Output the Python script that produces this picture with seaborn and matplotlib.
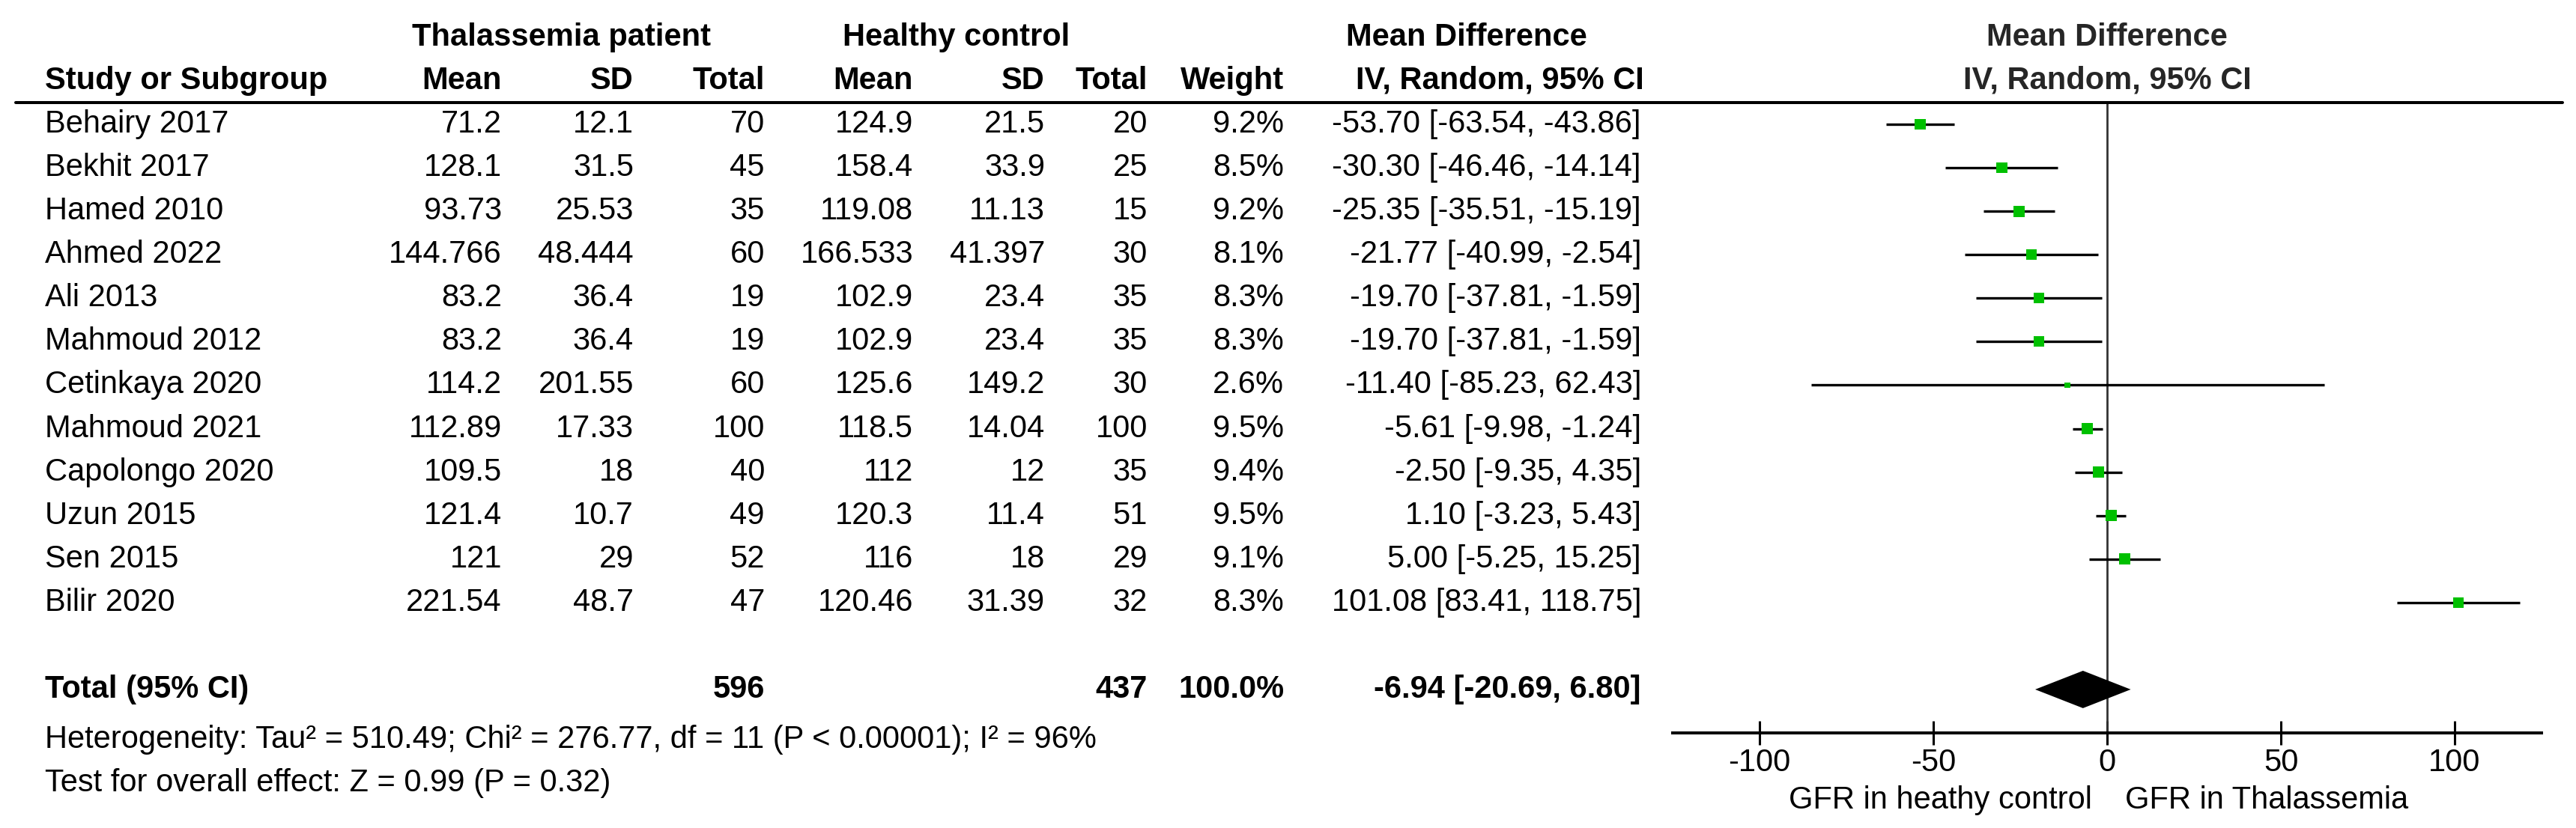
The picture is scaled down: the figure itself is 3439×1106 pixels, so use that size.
import matplotlib
matplotlib.use("Agg")
import matplotlib.pyplot as plt
import matplotlib.transforms as mtransforms
from matplotlib.lines import Line2D
import seaborn as sns

# -----------------------------
# Data
# -----------------------------
studies = ["Behairy 2017", "Bekhit 2017", "Hamed 2010", "Ahmed 2022", "Ali 2013",
           "Mahmoud 2012", "Cetinkaya 2020", "Mahmoud 2021", "Capolongo 2020",
           "Uzun 2015", "Sen 2015", "Bilir 2020"]
thal_mean = [71.2, 128.1, 93.73, 144.766, 83.2, 83.2, 114.2, 112.89, 109.5, 121.4, 121, 221.54]
thal_sd = [12.1, 31.5, 25.53, 48.444, 36.4, 36.4, 201.55, 17.33, 18, 10.7, 29, 48.7]
thal_n = [70, 45, 35, 60, 19, 19, 60, 100, 40, 49, 52, 47]
ctrl_mean = [124.9, 158.4, 119.08, 166.533, 102.9, 102.9, 125.6, 118.5, 112, 120.3, 116, 120.46]
ctrl_sd = [21.5, 33.9, 11.13, 41.397, 23.4, 23.4, 149.2, 14.04, 12, 11.4, 18, 31.39]
ctrl_n = [20, 25, 15, 30, 35, 35, 30, 100, 35, 51, 29, 32]
weight = [9.2, 8.5, 9.2, 8.1, 8.3, 8.3, 2.6, 9.5, 9.4, 9.5, 9.1, 8.3]
md = [-53.70, -30.30, -25.35, -21.77, -19.70, -19.70, -11.40, -5.61, -2.50, 1.10, 5.00, 101.08]
ci_lo = [-63.54, -46.46, -35.51, -40.99, -37.81, -37.81, -85.23, -9.98, -9.35, -3.23, -5.25, 83.41]
ci_hi = [-43.86, -14.14, -15.19, -2.54, -1.59, -1.59, 62.43, -1.24, 4.35, 5.43, 15.25, 118.75]

total_thal = 596
total_ctrl = 437
pooled = [-6.94, -20.69, 6.80]
heterogeneity = "Heterogeneity: Tau\u00b2 = 510.49; Chi\u00b2 = 276.77, df = 11 (P < 0.00001); I\u00b2 = 96%"
overall = "Test for overall effect: Z = 0.99 (P = 0.32)"
xticks = [-100, -50, 0, 50, 100]
left_label = "GFR in heathy control"
right_label = "GFR in Thalassemia"

# -----------------------------
# Style
# -----------------------------
sns.set_theme(style="white")
plt.rcParams["font.family"] = ["Liberation Sans", "DejaVu Sans"]
plt.rcParams["axes.unicode_minus"] = False
FS = 30
W, H = 3439, 1106

fig = plt.figure(figsize=(W / 100, H / 100), dpi=100)
fig.patch.set_facecolor("white")

# forest axes: rows in data units, header line at -0.5, axis at 14
ax_left, ax_right = 2233, 3393
ax_top, ax_bot = 137, 979
ax = fig.add_axes([ax_left / W, 1 - ax_bot / H, (ax_right - ax_left) / W, (ax_bot - ax_top) / H])
ax.set_xlim(-125, 125)
ax.set_ylim(14, -0.5)
ax.set_facecolor("white")

rows = list(range(len(studies)))
total_row = 13

# CI lines
ax.hlines(rows, ci_lo, ci_hi, color="black", lw=2.4, zorder=2)
# weighted squares
sns.scatterplot(x=md, y=rows, size=weight, sizes=(0, 123), size_norm=(0, 10),
                marker="s", color="#00c000", linewidth=0, legend=False, ax=ax, zorder=3)
# pooled diamond
d = 0.43
ax.fill([pooled[1], pooled[0], pooled[2], pooled[0]],
        [total_row, total_row - d, total_row, total_row + d],
        color="black", lw=0, zorder=3)
# line of no effect
ax.axvline(0, color="#333333", lw=2.0, zorder=1)

for s in ["left", "right", "top"]:
    ax.spines[s].set_visible(False)
ax.spines["bottom"].set_linewidth(2.9)
ax.spines["bottom"].set_color("black")
ax.set_yticks([])
ax.set_xticks(xticks)
ax.set_xticklabels([str(t) for t in xticks])
ax.tick_params(axis="x", direction="inout", length=23, width=2.2, labelsize=FS,
               pad=3, color="black", labelcolor="black", bottom=True)
ax.set_xlabel("")
ax.set_ylabel("")

ax.text(-4.3, 15.55, left_label, ha="right", va="center", fontsize=FS, color="black")
ax.text(5.2, 15.55, right_label, ha="left", va="center", fontsize=FS, color="black")

# header line across the figure
fig.add_artist(Line2D([21 / W, 3421 / W], [1 - ax_top / H, 1 - ax_top / H],
                      color="black", lw=2.9))

# -----------------------------
# Table text
# -----------------------------
trans = mtransforms.blended_transform_factory(fig.transFigure, ax.transData)


def put(x_px, row, s, ha="right", bold=False):
    fig.text(x_px / W, row, s, transform=trans, ha=ha, va="center", fontsize=FS,
             fontweight="bold" if bold else "normal", color="black")


cols = [670, 846, 1021, 1219, 1395, 1532, 1714, 2191]

# headers
put(749, -2, "Thalassemia patient", ha="center", bold=True)
put(1277, -2, "Healthy control", ha="center", bold=True)
put(1958, -2, "Mean Difference", ha="center", bold=True)
put(60, -1, "Study or Subgroup", ha="left", bold=True)
for x, h in zip(cols, ["Mean", "SD", "Total", "Mean", "SD", "Total", "Weight", "IV, Random, 95% CI"]):
    put(x + (4 if h.startswith("IV") else 0), -1, h, bold=True)
ax.text(0, -2, "Mean Difference", ha="center", va="center", fontsize=FS, fontweight="bold")
ax.text(0, -1, "IV, Random, 95% CI", ha="center", va="center", fontsize=FS, fontweight="bold")

# study rows
for i, name in enumerate(studies):
    vals = [f"{thal_mean[i]:g}", f"{thal_sd[i]:g}", f"{thal_n[i]}",
            f"{ctrl_mean[i]:g}", f"{ctrl_sd[i]:g}", f"{ctrl_n[i]}",
            f"{weight[i]:.1f}%", f"{md[i]:.2f} [{ci_lo[i]:.2f}, {ci_hi[i]:.2f}]"]
    put(60, i, name, ha="left")
    for x, v in zip(cols, vals):
        put(x, i, v)

# total row
put(60, total_row, "Total (95% CI)", ha="left", bold=True)
put(cols[2], total_row, f"{total_thal}", bold=True)
put(cols[5], total_row, f"{total_ctrl}", bold=True)
put(cols[6], total_row, "100.0%", bold=True)
put(cols[7], total_row, f"{pooled[0]:.2f} [{pooled[1]:.2f}, {pooled[2]:.2f}]", bold=True)

put(60, 14.16, heterogeneity, ha="left")
put(60, 15.16, overall, ha="left")

fig.savefig("out.png", dpi=100, facecolor="white")
